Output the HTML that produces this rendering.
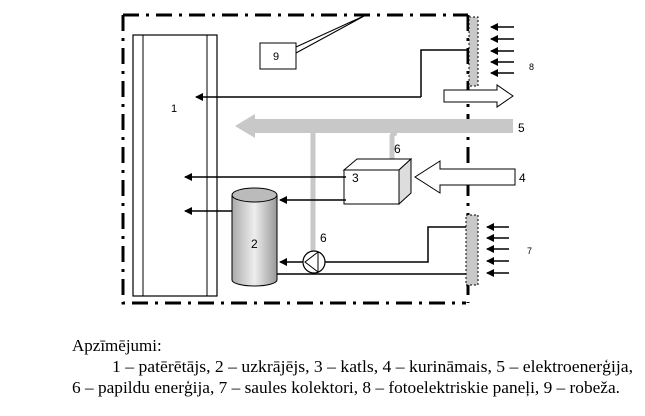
<!DOCTYPE html>
<html><head><meta charset="utf-8"><style>
body{margin:0;background:#fff;}
svg{display:block;}
.t{font-family:"Liberation Sans",sans-serif;font-size:11px;fill:#000;}
.c{font-family:"Liberation Serif",serif;font-size:17px;fill:#000;}
</style></head><body>
<svg width="645" height="416" viewBox="0 0 645 416" xmlns="http://www.w3.org/2000/svg">
<defs>
<marker id="a" markerWidth="8" markerHeight="8" refX="7" refY="4" orient="auto" markerUnits="userSpaceOnUse"><path d="M0,0 L8,4 L0,8 z" fill="#000"/></marker>
<linearGradient id="g" x1="0" x2="1"><stop offset="0" stop-color="#aaa"/><stop offset="0.5" stop-color="#eee"/><stop offset="1" stop-color="#999"/></linearGradient>
</defs>
<g stroke="#000" stroke-width="3" fill="none" stroke-dasharray="16,7,3,7">
<path d="M123,15 L468,15"/><path d="M123,15 L123,303 L466,303"/><path d="M468,15 L468,303"/>
</g>
<rect x="133" y="35" width="84" height="261" fill="#fff" stroke="#000" stroke-width="1.2"/>
<line x1="143" y1="35" x2="143" y2="296" stroke="#000"/>
<line x1="207" y1="35" x2="207" y2="296" stroke="#000"/>
<text class="t" x="171" y="112">1</text>
<rect x="260" y="43" width="36" height="26" fill="#fff" stroke="#000"/>
<text class="t" x="273" y="60">9</text>
<path d="M296,47 L366,15 L296,53" fill="none" stroke="#000"/>
<path d="M513,119 L255,119 L255,114 L235,126 L255,138 L255,133 L513,133 z" fill="#c8c8c8"/>
<path d="M313,126 L313,255" stroke="#c8c8c8" stroke-width="5" fill="none"/>
<path d="M392,163 L392,137 Q392,133 397,133" stroke="#c8c8c8" stroke-width="5" fill="none"/>
<text class="t" x="518" y="132" style="font-size:12px">5</text>
<text class="t" x="394" y="153" style="font-size:12px">6</text>
<text class="t" x="320" y="242" style="font-size:12px">6</text>
<path d="M421,97 L421,50 L469,50" fill="none" stroke="#000" stroke-width="1.5"/>
<line x1="421" y1="97" x2="196" y2="97" stroke="#000" stroke-width="1.5" marker-end="url(#a)"/>
<path d="M444,90 L497,90 L497,85 L513,96 L497,107 L497,102 L444,102 z" fill="#fff" stroke="#000"/>
<rect x="469" y="17" width="9" height="69" fill="#c8c8c8" stroke="#000" stroke-dasharray="2,2"/>
<g stroke="#000" stroke-width="1.5">
<line x1="514" y1="27" x2="491" y2="27" marker-end="url(#a)"/>
<line x1="514" y1="39" x2="491" y2="39" marker-end="url(#a)"/>
<line x1="514" y1="51" x2="491" y2="51" marker-end="url(#a)"/>
<line x1="514" y1="62" x2="491" y2="62" marker-end="url(#a)"/>
<line x1="514" y1="73" x2="491" y2="73" marker-end="url(#a)"/>
</g>
<text class="t" x="529" y="70" style="font-size:9px">8</text>
<path d="M344,170 L357,159 L411,159 L399,170 z" fill="#fff" stroke="#000"/>
<path d="M399,170 L411,159 L411,193 L399,204 z" fill="#ddd" stroke="#000"/>
<rect x="344" y="170" width="55" height="34" fill="#fff" stroke="#000"/>
<text class="t" x="352" y="182" style="font-size:12px">3</text>
<line x1="346" y1="177" x2="185" y2="177" stroke="#000" stroke-width="1.5" marker-end="url(#a)"/>
<line x1="346" y1="200" x2="280" y2="200" stroke="#000" stroke-width="1.5" marker-end="url(#a)"/>
<path d="M515,169 L440,169 L440,161 L415,177 L440,193 L440,185 L515,185 z" fill="#fff" stroke="#000"/>
<text class="t" x="519" y="182" style="font-size:12px">4</text>
<path d="M232,195 L232,280 A22.5,6 0 0 0 277,280 L277,195 z" fill="url(#g)" stroke="#000"/>
<ellipse cx="254.5" cy="195" rx="22.5" ry="7" fill="#bbb" stroke="#000"/>
<text class="t" x="251" y="248" style="font-size:12px">2</text>
<line x1="232" y1="211" x2="185" y2="211" stroke="#000" stroke-width="1.5" marker-end="url(#a)"/>
<line x1="303" y1="262" x2="280" y2="262" stroke="#000" stroke-width="1.5" marker-end="url(#a)"/>
<path d="M325,262 L428,262 L428,227 L467,227" fill="none" stroke="#000" stroke-width="1.5"/>
<line x1="277" y1="274" x2="467" y2="274" stroke="#000" stroke-width="1.5"/>
<circle cx="314" cy="262" r="11" fill="#fff" stroke="#000" stroke-width="1.2"/>
<path d="M318,252 L305,262 L318,272 M318,252 L318,272" fill="none" stroke="#000"/>
<rect x="466" y="215" width="12" height="70" fill="#c8c8c8" stroke="#000" stroke-dasharray="2,2"/>
<g stroke="#000" stroke-width="1.5">
<line x1="509" y1="227" x2="487" y2="227" marker-end="url(#a)"/>
<line x1="509" y1="238" x2="487" y2="238" marker-end="url(#a)"/>
<line x1="509" y1="249" x2="487" y2="249" marker-end="url(#a)"/>
<line x1="509" y1="261" x2="487" y2="261" marker-end="url(#a)"/>
<line x1="509" y1="273" x2="487" y2="273" marker-end="url(#a)"/>
</g>
<text class="t" x="527" y="254" style="font-size:9px">7</text>
<text class="c" x="72" y="351">Apzīmējumi:</text>
<text class="c" x="112" y="372" textLength="521" lengthAdjust="spacingAndGlyphs">1 – patērētājs, 2 – uzkrājējs, 3 – katls, 4 – kurināmais, 5 – elektroenerģija,</text>
<text class="c" x="72" y="393" textLength="548" lengthAdjust="spacingAndGlyphs">6 – papildu enerģija, 7 – saules kolektori, 8 – fotoelektriskie paneļi, 9 – robeža.</text>
</svg>
</body></html>
